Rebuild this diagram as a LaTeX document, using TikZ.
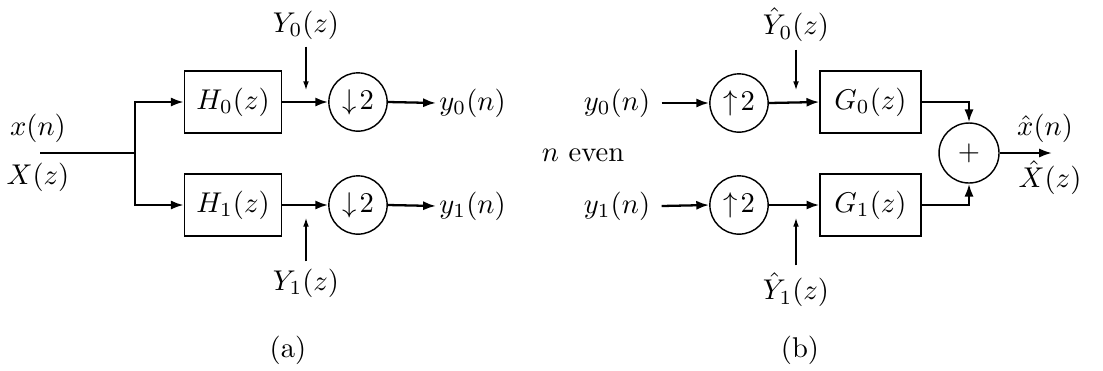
\documentclass[tikz,border=0pt]{standalone}
\usetikzlibrary{arrows.meta}
\begin{document}
\begin{tikzpicture}[x=0.35pt,y=-0.35pt,
  blk/.style={draw,line width=0.5pt,minimum width=34pt,minimum height=21.7pt,inner sep=0pt},
  rate/.style={draw,circle,line width=0.5pt,minimum size=20.4pt,inner sep=0pt},
  summ/.style={draw,circle,line width=0.5pt,minimum size=21pt,inner sep=0pt},
  sig/.style={line width=0.8pt},
  sigarr/.style={line width=0.8pt,-{Latex[length=4.5pt,width=3.2pt]}},
  noise/.style={line width=0.4pt,-{Latex[length=3pt,width=2pt]}},
  lbl/.style={inner sep=1pt}]
\useasboundingbox (0,0) rectangle (1103,370);
% ---------- (a) analysis ----------
\coordinate (in) at (40,153);
\coordinate (br) at (135,153);
\node[lbl] (xn) at (38,128) {$x(n)$};
\node[lbl] (Xz) at (38,177) {$X(z)$};
\node[blk] (H0) at (233,102) {$H_0(z)$};
\node[blk] (H1) at (233,205) {$H_1(z)$};
\node[rate] (D0) at (358,102) {$\downarrow\!2$};
\node[rate] (D1) at (358,205) {$\downarrow\!2$};
\node[lbl,anchor=west] (y0) at (436,103) {$y_0(n)$};
\node[lbl,anchor=west] (y1) at (436,206) {$y_1(n)$};
\node[lbl] (Y0) at (306,25) {$Y_0(z)$};
\node[lbl] (Y1) at (306,283) {$Y_1(z)$};
\coordinate (t0) at (306,90);
\coordinate (t1) at (306,218);
\draw[sig] (in) -- (br);
\draw[sigarr] (br) |- (H0.west);
\draw[sigarr] (br) |- (H1.west);
\draw[sigarr] (H0.east) -- (D0.west);
\draw[sigarr] (H1.east) -- (D1.west);
\draw[sigarr] (D0.east) -- (y0.west);
\draw[sigarr] (D1.east) -- (y1.west);
\draw[noise] (Y0.south) ++(0,4) -- (t0);
\draw[noise] (Y1.north) ++(0,-4) -- (t1);
\node (a) at (288,350) {(a)};
% ---------- middle ----------
\node (ne) at (583,155) {$n$ even};
% ---------- (b) synthesis ----------
\node[lbl] (yi0) at (617,103) {$y_0(n)$};
\node[lbl] (yi1) at (617,206) {$y_1(n)$};
\node[rate] (U0) at (739,103) {$\uparrow\!2$};
\node[rate] (U1) at (739,205) {$\uparrow\!2$};
\node[blk,minimum width=35.3pt] (G0) at (870.5,102) {$G_0(z)$};
\node[blk,minimum width=35.3pt] (G1) at (870.5,205) {$G_1(z)$};
\node[summ] (S) at (969,153) {$+$};
\coordinate (out) at (1052,153);
\node[lbl] (xh) at (1045,128) {$\hat{x}(n)$};
\node[lbl] (Xh) at (1050,178) {$\hat{X}(z)$};
\node[lbl] (Yh0) at (796,25) {$\hat{Y}_0(z)$};
\node[lbl] (Yh1) at (796,290) {$\hat{Y}_1(z)$};
\coordinate (s0) at (796,90);
\coordinate (s1) at (796,218);
\draw[sigarr] (yi0.east) ++(8,0) -- (U0.west);
\draw[sigarr] (yi1.east) ++(8,0) -- (U1.west);
\draw[sigarr] (U0.east) -- (G0.west);
\draw[sigarr] (U1.east) -- (G1.west);
\draw[sigarr] (G0.east) -| (S.north);
\draw[sigarr] (G1.east) -| (S.south);
\draw[sigarr] (S.east) -- (out);
\draw[noise] (Yh0.south) ++(0,4) -- (s0);
\draw[noise] (Yh1.north) ++(0,-4) -- (s1);
\node (b) at (800,350) {(b)};
\end{tikzpicture}
\end{document}
